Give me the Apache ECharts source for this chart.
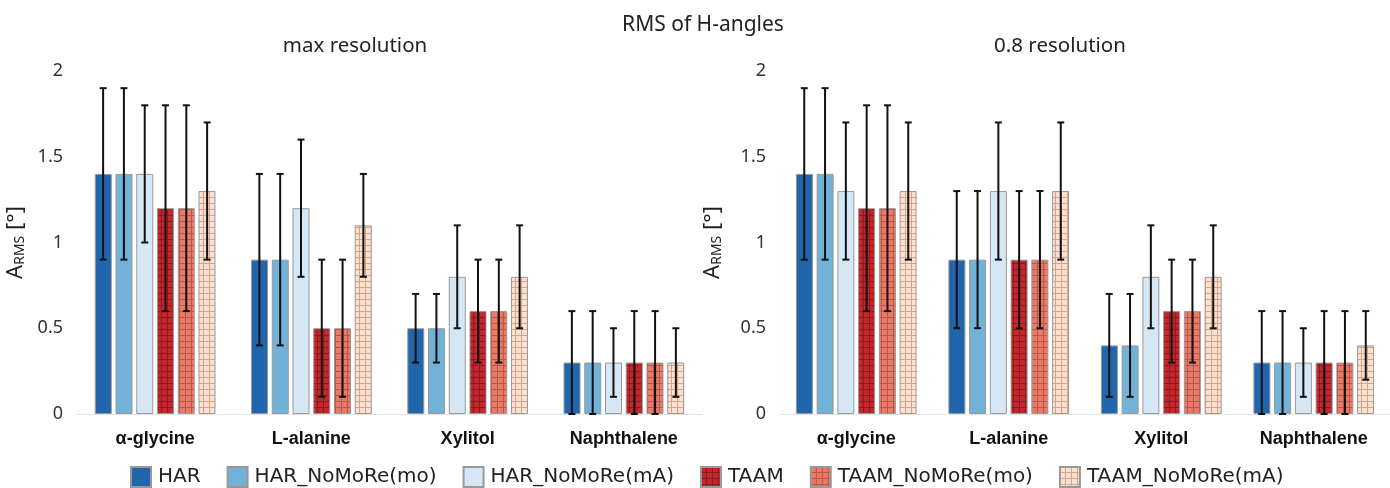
<!DOCTYPE html>
<html>
<head>
<meta charset="utf-8">
<script src="https://cdn.jsdelivr.net/npm/echarts@6/dist/echarts.min.js"></script>
<style>
  html, body { margin: 0; padding: 0; background: #fff; }
  #main { width: 1390px; height: 488px; }
</style>
</head>
<body>
<div id="main"></div>
<script>
var categories = ['α-glycine', 'L-alanine', 'Xylitol', 'Naphthalene'];
var seriesNames = ['HAR', 'HAR_NoMoRe(mo)', 'HAR_NoMoRe(mA)', 'TAAM', 'TAAM_NoMoRe(mo)', 'TAAM_NoMoRe(mA)'];
var yTicks = [0, 0.5, 1, 1.5, 2];

// max resolution
var harMax = [1.4, 0.9, 0.5, 0.3];
var harMaxErr = [0.5, 0.5, 0.2, 0.3];
var harMoMax = [1.4, 0.9, 0.5, 0.3];
var harMoMaxErr = [0.5, 0.5, 0.2, 0.3];
var harMaMax = [1.4, 1.2, 0.8, 0.3];
var harMaMaxErr = [0.4, 0.4, 0.3, 0.2];
var taamMax = [1.2, 0.5, 0.6, 0.3];
var taamMaxErr = [0.6, 0.4, 0.3, 0.3];
var taamMoMax = [1.2, 0.5, 0.6, 0.3];
var taamMoMaxErr = [0.6, 0.4, 0.3, 0.3];
var taamMaMax = [1.3, 1.1, 0.8, 0.3];
var taamMaMaxErr = [0.4, 0.3, 0.3, 0.2];

// 0.8 resolution
var har08 = [1.4, 0.9, 0.4, 0.3];
var har08Err = [0.5, 0.4, 0.3, 0.3];
var harMo08 = [1.4, 0.9, 0.4, 0.3];
var harMo08Err = [0.5, 0.4, 0.3, 0.3];
var harMa08 = [1.3, 1.3, 0.8, 0.3];
var harMa08Err = [0.4, 0.4, 0.3, 0.2];
var taam08 = [1.2, 0.9, 0.6, 0.3];
var taam08Err = [0.6, 0.4, 0.3, 0.3];
var taamMo08 = [1.2, 0.9, 0.6, 0.3];
var taamMo08Err = [0.6, 0.4, 0.3, 0.3];
var taamMa08 = [1.3, 1.3, 0.8, 0.4];
var taamMa08Err = [0.4, 0.4, 0.3, 0.2];

var panels = [
  { vals: [harMax, harMoMax, harMaMax, taamMax, taamMoMax, taamMaMax],
    errs: [harMaxErr, harMoMaxErr, harMaMaxErr, taamMaxErr, taamMoMaxErr, taamMaMaxErr] },
  { vals: [har08, harMo08, harMa08, taam08, taamMo08, taamMa08],
    errs: [har08Err, harMo08Err, harMa08Err, taam08Err, taamMo08Err, taamMa08Err] }
];

// checkered fill for TAAM bars
function makePattern(bg, line) {
  var c = document.createElement('canvas');
  c.width = 6; c.height = 6;
  var ctx = c.getContext('2d');
  ctx.fillStyle = bg;
  ctx.fillRect(0, 0, 6, 6);
  ctx.fillStyle = line;
  ctx.fillRect(5, 0, 1, 6);
  ctx.fillRect(0, 5, 6, 1);
  return { image: c, repeat: 'repeat' };
}

var fills = [
  '#2166ac',
  '#72b2d9',
  '#d5e7f5',
  makePattern('#c4262c', '#8a1a1e'),
  makePattern('#ea7a66', '#b5574a'),
  makePattern('#fde0cd', '#cfa590')
];

var BAR_W = 17;
var STEP = 20.8;

var chart = echarts.init(document.getElementById('main'));

var series = [];
panels.forEach(function (p, gi) {
  p.vals.forEach(function (vals, k) {
    series.push({
      name: seriesNames[k],
      type: 'bar',
      xAxisIndex: gi,
      yAxisIndex: gi,
      barWidth: BAR_W,
      barGap: '22%',
      itemStyle: { color: fills[k], borderColor: '#999999', borderWidth: 1 },
      data: vals
    });
  });
  p.vals.forEach(function (vals, k) {
    var errs = p.errs[k];
    series.push({
      name: seriesNames[k] + ' err' + gi,
      type: 'custom',
      xAxisIndex: gi,
      yAxisIndex: gi,
      z: 10,
      encode: { x: 0, y: [1, 2] },
      data: vals.map(function (v, i) { return [i, v - errs[i], v + errs[i]]; }),
      renderItem: function (params, api) {
        var lo = api.coord([api.value(0), api.value(1)]);
        var hi = api.coord([api.value(0), api.value(2)]);
        var x = lo[0] + (k - 2.5) * STEP;
        var cw = 3.5;
        var st = { stroke: '#111', lineWidth: 2 };
        return {
          type: 'group',
          children: [
            { type: 'line', shape: { x1: x, y1: lo[1], x2: x, y2: hi[1] }, style: st },
            { type: 'line', shape: { x1: x - cw, y1: lo[1], x2: x + cw, y2: lo[1] }, style: st },
            { type: 'line', shape: { x1: x - cw, y1: hi[1], x2: x + cw, y2: hi[1] }, style: st }
          ]
        };
      }
    });
  });
});

function yAxis(gi, gap) {
  return {
    type: 'value',
    gridIndex: gi,
    min: yTicks[0],
    max: yTicks[yTicks.length - 1],
    interval: 0.5,
    splitLine: { show: false },
    axisLine: { show: false },
    axisTick: { show: false },
    axisLabel: { color: '#333', fontSize: 18, fontFamily: 'Noto Sans', margin: 14 },
    name: '{a|A}{s|RMS}{a| [°]}',
    nameLocation: 'middle',
    nameGap: gap,
    nameRotate: 90,
    nameTextStyle: {
      rich: {
        a: { fontSize: 22, fontFamily: 'Noto Sans', color: '#222' },
        s: { fontSize: 14, fontFamily: 'Noto Sans', color: '#222', padding: [8, 0, 0, 0] }
      }
    }
  };
}

function xAxis(gi) {
  return {
    type: 'category',
    gridIndex: gi,
    data: categories,
    axisLine: { lineStyle: { color: '#e3e3e3', width: 1 } },
    axisTick: { show: false },
    axisLabel: { color: '#111', fontWeight: 'bold', fontSize: 18, fontFamily: 'Liberation Sans', margin: 16 }
  };
}

var titleFont = { fontWeight: 'normal', fontFamily: 'Noto Sans', color: '#222' };

var option = {
  backgroundColor: '#ffffff',
  animation: false,
  title: [
    { text: 'RMS of H-angles', left: 698, top: 10, textAlign: 'center',
      textStyle: Object.assign({ fontSize: 21 }, titleFont) },
    { text: 'max resolution', left: 350, top: 31, textAlign: 'center',
      textStyle: Object.assign({ fontSize: 20.5 }, titleFont) },
    { text: '0.8 resolution', left: 1055, top: 31, textAlign: 'center',
      textStyle: Object.assign({ fontSize: 20.5 }, titleFont) }
  ],
  legend: {
    data: seriesNames,
    left: 130,
    top: 466,
    padding: 0,
    itemWidth: 20,
    itemHeight: 20,
    itemGap: 26,
    icon: 'rect',
    textStyle: { fontSize: 20, fontFamily: 'DejaVu Sans', color: '#222', padding: [0, 0, 0, 2] }
  },
  grid: [
    { left: 77, top: 71, width: 625, height: 343 },
    { left: 780, top: 71, width: 628, height: 343 }
  ],
  xAxis: [xAxis(0), xAxis(1)],
  yAxis: [yAxis(0, 50), yAxis(1, 56)],
  series: series
};

chart.setOption(option);
</script>
</body>
</html>
